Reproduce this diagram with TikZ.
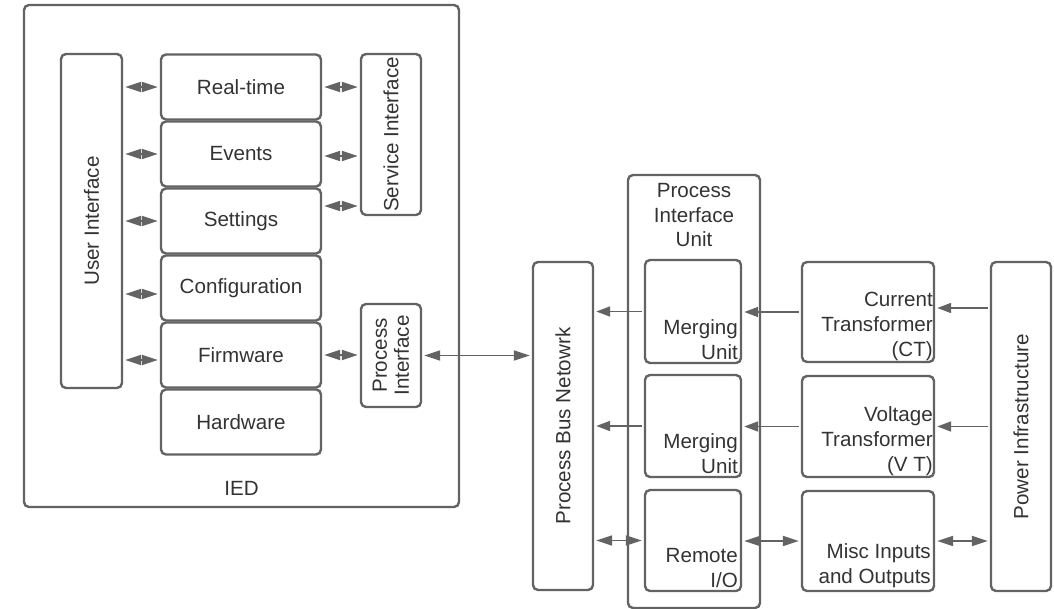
\documentclass[tikz,border=0pt]{standalone}
\usepackage{fontspec}
\setmainfont{Liberation Sans}
\usetikzlibrary{positioning}
\usetikzlibrary{arrows.meta}
\definecolor{linegray}{HTML}{636363}
\definecolor{textgray}{HTML}{333333}

\begin{document}
\begin{tikzpicture}[x=0.5pt,y=-0.5pt,
  font=\fontsize{10.3}{12.4}\selectfont,
  box/.style={draw=linegray,line width=1.2pt,rounded corners=2.5pt,text=textgray,inner sep=0pt},
  corner text/.style={anchor=south east,align=right,inner sep=2pt,text=textgray},
  side text/.style={rotate=90,anchor=center,align=center,text=textgray,
    font=\fontsize{10.3}{11}\selectfont},
  link/.style={draw=linegray,line width=0.9pt,shorten <=1pt,shorten >=1pt},
  both/.style={link,{Triangle[length=8pt,width=5pt]}-{Triangle[length=8pt,width=5pt]}},
  one/.style={link,-{Triangle[length=7pt,width=5pt]}}]
\useasboundingbox (0,0) rectangle (1054,609);

% IED
\node[box,minimum width=217.5pt,minimum height=251pt] (ied) at (241.5,256) {};
\node[text=textgray] (iedname) at (241.5,488) {IED};
\node[box,minimum width=30.5pt,minimum height=167pt,
  label={[side text]center:User Interface}] (ui) at (91.5,221) {};
\node[box,minimum width=80pt,minimum height=32.5pt] (rt) at (241,87) {Real-time};
\node[box,minimum width=80pt,minimum height=32.5pt] (ev) at (241,154) {Events};
\node[box,minimum width=80pt,minimum height=32.5pt] (set) at (241,221) {Settings};
\node[box,minimum width=80pt,minimum height=32.5pt] (conf) at (241,288) {Configuration};
\node[box,minimum width=80pt,minimum height=32.5pt] (fw) at (241,355) {Firmware};
\node[box,minimum width=80pt,minimum height=32.5pt] (hw) at (241,422) {Hardware};
\node[box,minimum width=30pt,minimum height=80.5pt,
  label={[side text]center:Service Interface}] (si) at (391,134.5) {};
\node[box,minimum width=30pt,minimum height=51.5pt,
  label={[side text]center:Process\\Interface}] (pi) at (391,355.5) {};

% process side
\node[box,minimum width=30pt,minimum height=164pt,
  label={[side text]center:Process Bus Netowrk}] (bus) at (563,426) {};
\node[box,minimum width=66pt,minimum height=216.5pt,
  label={[anchor=north,align=center,text=textgray,inner sep=4.5pt]north:Process\\Interface\\Unit}] (piu) at (694,391.5) {};
\node[box,minimum width=48pt,minimum height=51.5pt,
  label={[corner text]south east:Merging\\Unit}] (mu1) at (693,311.5) {};
\node[box,minimum width=48pt,minimum height=51pt,
  label={[corner text]south east:Merging\\Unit}] (mu2) at (693,426) {};
\node[box,minimum width=48pt,minimum height=50.5pt,
  label={[corner text]south east:Remote\\I/O}] (rio) at (693,540.5) {};
\node[box,minimum width=66pt,minimum height=50pt,
  label={[corner text,inner sep=1pt]south east:Current\\Transformer\\(CT)}] (ct) at (868,312) {};
\node[box,minimum width=66pt,minimum height=50.5pt,
  label={[corner text,inner sep=1pt]south east:Voltage\\Transformer\\(V T)}] (vt) at (868,426.5) {};
\node[box,minimum width=66pt,minimum height=50pt,
  label={[corner text]south east:Misc Inputs\\and Outputs}] (misc) at (868,541) {};
\node[box,minimum width=30pt,minimum height=164.5pt,
  label={[side text]center:Power Infrastructure}] (pwr) at (1021,426.5) {};

% inside the IED
\draw[both] (ui.east |- rt.west) -- (rt.west);
\draw[both] (ui.east |- ev.west) -- (ev.west);
\draw[both] (ui.east |- set.west) -- (set.west);
\draw[both] ([yshift=-3pt]conf.west -| ui.east) -- ([yshift=-3pt]conf.west);
\draw[both] ([yshift=-2.5pt]fw.west -| ui.east) -- ([yshift=-2.5pt]fw.west);
\draw[both] (rt.east) -- (si.west |- rt.east);
\draw[both] ([yshift=-1pt]ev.east) -- ([yshift=-1pt]ev.east -| si.west);
\draw[both] ([yshift=7.5pt]set.east) -- ([yshift=7.5pt]set.east -| si.west);
\draw[both] (fw.east) -- (pi.west |- fw.east);

% out to the process
\draw[both] (pi.east) -- (bus.west |- pi.east);
\draw[one] (mu1.west) -- (bus.east |- mu1.west);
\draw[one] (mu2.west) -- (bus.east |- mu2.west);
\draw[both] (rio.west) -- (bus.east |- rio.west);
\draw[one] (ct.west) -- (mu1.east |- ct.west);
\draw[one] (vt.west) -- (mu2.east |- vt.west);
\draw[both] (misc.west) -- (rio.east |- misc.west);
\draw[one] ([yshift=2pt]ct.east -| pwr.west) -- ([yshift=2pt]ct.east);
\draw[one] (pwr.west |- vt.east) -- (vt.east);
\draw[both] (pwr.west |- misc.east) -- (misc.east);
\end{tikzpicture}
\end{document}
